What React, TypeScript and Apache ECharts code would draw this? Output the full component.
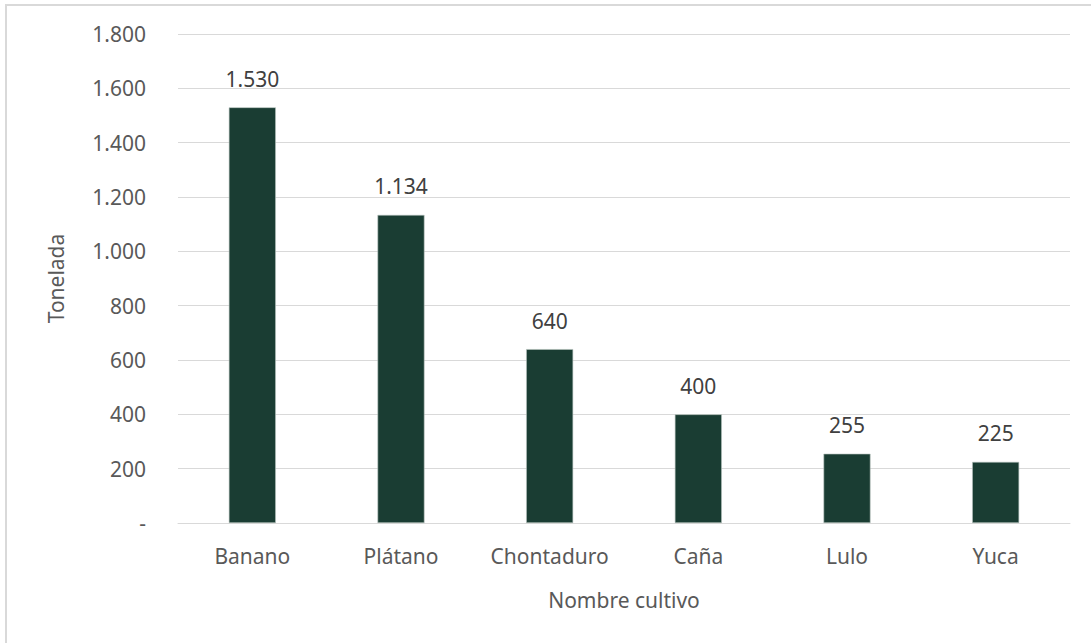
import React, { useEffect, useRef } from "react";
import * as echarts from "echarts";

const categories = ["Banano", "Plátano", "Chontaduro", "Caña", "Lulo", "Yuca"];
const values = [1530, 1134, 640, 400, 255, 225];
const yTicks = { min: 0, max: 1800, interval: 200 };
const xAxisName = "Nombre cultivo";
const yAxisName = "Tonelada";

const fmt = (v: number) =>
  v === 0 ? "-" : String(Math.round(v)).replace(/\B(?=(\d{3})+(?!\d))/g, ".");

const FONT = "Noto Sans";
const FS = 21;

export default function App() {
  const ref = useRef<HTMLDivElement>(null);
  useEffect(() => {
    document.body.style.margin = "0";
    const chart = echarts.init(ref.current!, null, { renderer: "svg" });
    chart.setOption({
      animation: false,
      backgroundColor: "#ffffff",
      textStyle: { fontFamily: FONT },
      graphic: [
        {
          type: "rect",
          shape: { x: 6, y: 5, width: 1200, height: 800 },
          style: { fill: "none", stroke: "#d9d9d9", lineWidth: 2 },
          silent: true,
        },
      ],
      grid: { left: 178, right: 21, top: 34, bottom: 120, containLabel: false },
      xAxis: {
        type: "category",
        data: categories,
        name: xAxisName,
        nameLocation: "middle",
        nameGap: 66,
        nameTextStyle: { color: "#595959", fontSize: FS, fontFamily: FONT },
        axisLine: { show: true, lineStyle: { color: "#d9d9d9", width: 1 } },
        axisTick: { show: false },
        axisLabel: {
          color: "#595959",
          fontSize: FS,
          margin: 22,
          fontFamily: FONT,
          interval: 0,
          hideOverlap: false,
        },
      },
      yAxis: {
        type: "value",
        min: yTicks.min,
        max: yTicks.max,
        interval: yTicks.interval,
        name: yAxisName,
        nameLocation: "middle",
        nameGap: 112,
        nameRotate: 90,
        nameTextStyle: { color: "#595959", fontSize: FS, fontFamily: FONT },
        axisLine: { show: false },
        axisTick: { show: false },
        splitLine: { lineStyle: { color: "#d9d9d9", width: 1 } },
        axisLabel: {
          color: "#595959",
          fontSize: FS,
          margin: 32,
          fontFamily: FONT,
          formatter: (v: number) => fmt(v),
        },
      },
      series: [
        {
          type: "bar",
          data: values,
          barWidth: 47,
          itemStyle: { color: "#1a3d33", borderColor: "#b8c4c0", borderWidth: 0.6 },
          label: {
            show: true,
            position: "top",
            distance: 18,
            color: "#404040",
            fontSize: FS,
            fontFamily: FONT,
            formatter: (p: any) => fmt(p.value),
          },
        },
      ],
    });
    return () => chart.dispose();
  }, []);
  return <div ref={ref} style={{ width: 1091, height: 643 }} />;
}
